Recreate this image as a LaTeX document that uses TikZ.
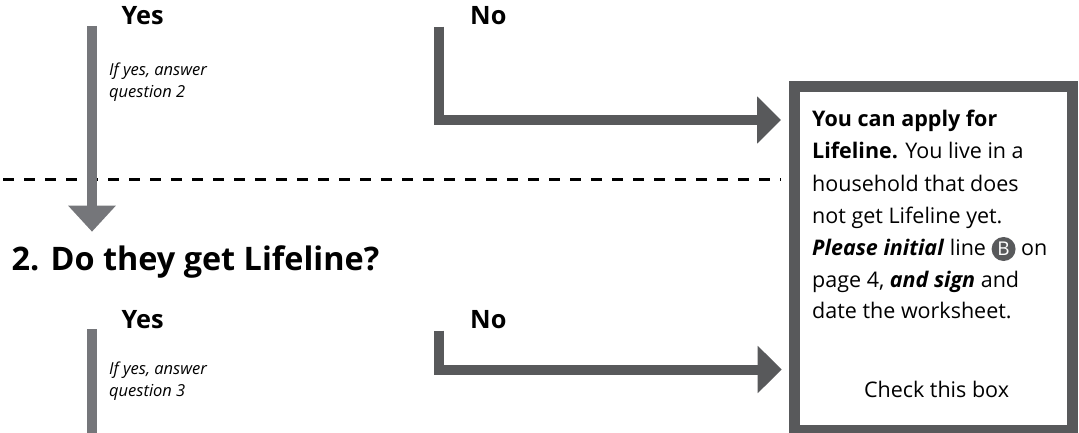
\documentclass[tikz,border=0pt]{standalone}
\usepackage{fontspec}
\setmainfont{Open Sans}
\usetikzlibrary{arrows.meta,calc}
\definecolor{yesgray}{HTML}{75767A}
\definecolor{nogray}{HTML}{58595B}
\newcommand{\circB}{\tikz[x=1pt,y=1pt,baseline=-6pt]{\fill[nogray] (0,0) circle[radius=12pt]; \node[text=white,inner sep=0pt,anchor=center,font=\fontsize{19}{19}\selectfont] (cb) at (0,0) {B};}}
\tikzset{
  yesarrow/.style={draw=yesgray,line width=10.5pt,-{Triangle[width=46pt,length=26pt]}},
  yesbar/.style={draw=yesgray,line width=10.5pt},
  noarrow/.style={draw=nogray,line width=10pt,-{Triangle[width=46pt,length=24pt]}},
  dashline/.style={draw=black,line width=2.5pt,dash pattern=on 11pt off 10pt},
  answer/.style={font=\fontsize{25.3}{26}\selectfont\bfseries,inner sep=0pt,anchor=base west},
  hint/.style={font=\fontsize{16.5}{22}\selectfont\itshape,inner sep=0pt,anchor=base west,align=left},
  body/.style={font=\fontsize{21.5}{32}\selectfont,inner sep=0pt,anchor=base west},
  heading/.style={font=\fontsize{32.4}{33}\selectfont\bfseries,inner sep=0pt,anchor=base west},
  resultbox/.style={draw=nogray,line width=11pt,fill=white,rectangle,inner sep=0pt,minimum width=277.5pt,minimum height=343.5pt}
}
\begin{document}
\begin{tikzpicture}[x=1pt,y=-1pt]
\useasboundingbox (0,0) rectangle (1079,433);
\clip (0,0) rectangle (1079,433);
% dashed separator
\coordinate (d0) at (3,179.3);
\coordinate (d1) at (781,179.3);
\draw[dashline] (d0) -- (d1);
% result box
\node[resultbox] (box) at (933.5,258.75) {};
% question 1 answers
\node[answer] (yes1) at (121.5,25) {Yes};
\node[answer] (no1) at (470,25) {No};
\node[hint] (hint1) at (109,98) {If yes, answer\\question 2};
\coordinate (y1s) at (92,26);
\coordinate (y1e) at (92,231.7);
\draw[yesarrow] (y1s) -- (y1e);
\coordinate (n1s) at (439,26.7);
\coordinate (n1e) at (781,120);
\draw[noarrow] (n1s) |- (n1e);
% question 2
\node[heading] (q2) at (11.5,270) {2. Do they get Lifeline?};
\node[answer] (yes2) at (121.5,328) {Yes};
\node[answer] (no2) at (470,328) {No};
\node[hint] (hint2) at (109,396) {If yes, answer\\question 3};
\coordinate (y2s) at (92,329);
\coordinate (y2e) at (92,445);
\draw[yesbar] (y2s) -- (y2e);
\coordinate (n2s) at (439,330.7);
\coordinate (n2e) at (781.7,369.5);
\draw[noarrow] (n2s) |- (n2e);
% box text
\node[body] (l1) at (812,127) {\textbf{You can apply for}};
\node[body] (l2) at (812,159) {\textbf{Lifeline.} You live in a};
\node[body] (l3) at (812,191) {household that does};
\node[body] (l4) at (812,223) {not get Lifeline yet.};
\node[body] (l5) at (812,255) {\textbf{\textit{Please initial}} line \circB{} on};
\node[body] (l6) at (812,287) {page 4, \textbf{\textit{and sign}} and};
\node[body] (l7) at (812,318) {date the worksheet.};
\node[body,anchor=base] (chk) at (936.5,397) {Check this box};
\end{tikzpicture}
\end{document}
